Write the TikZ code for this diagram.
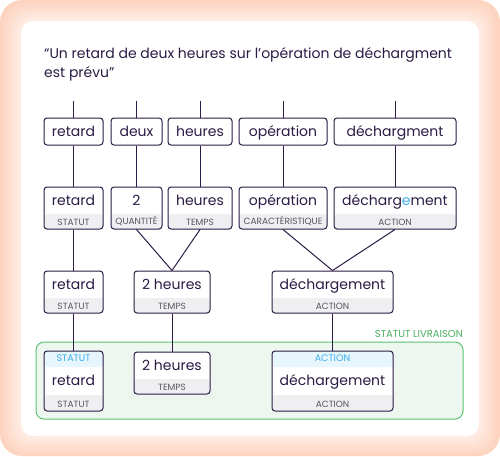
\documentclass[tikz,border=0pt]{standalone}
\usepackage{fontspec}
\setmainfont{Poppins}
\definecolor{ink}{HTML}{2B1B45}
\definecolor{peach}{HTML}{FDD4C0}
\definecolor{tagbg}{HTML}{EFEFF2}
\definecolor{tagink}{HTML}{55555F}
\definecolor{topbg}{HTML}{E7F5FD}
\definecolor{topink}{HTML}{3DAFEA}
\definecolor{zonebg}{HTML}{EEF7EF}
\definecolor{zoneline}{HTML}{5DC172}
\definecolor{zoneink}{HTML}{4BAE5F}

\begin{document}
\begin{tikzpicture}[x=1pt,y=-1pt,
  box/.style={draw=ink, line width=1pt, rounded corners=3pt, fill=white, text=ink,
    font=\fontsize{14}{17}\selectfont, inner xsep=0pt, inner ysep=0pt,
    text height=18pt, text depth=9pt},
  tagtxt/.style={anchor=south, inner sep=0pt, yshift=3.5pt, text=tagink,
    font=\fontsize{9}{10}\selectfont},
  toptxt/.style={anchor=north, inner sep=0pt, yshift=-4.5pt, text=topink,
    font=\fontsize{9.5}{10}\selectfont},
  tagged/.style={box, text height=18pt, text depth=24pt,
    path picture={\fill[tagbg] ([yshift=15pt]path picture bounding box.south west)
      rectangle (path picture bounding box.south east);},
    label={[tagtxt]south:#1}},
  twotag/.style 2 args={box, text height=34pt, text depth=26pt,
    path picture={\fill[tagbg] ([yshift=16pt]path picture bounding box.south west)
      rectangle (path picture bounding box.south east);
      \fill[topbg] ([yshift=-16pt]path picture bounding box.north west)
      rectangle (path picture bounding box.north east);},
    label={[toptxt]north:#1}, label={[tagtxt]south:#2}},
  link/.style={draw=ink, line width=1pt},
  zone/.style={draw=zoneline, fill=zonebg, line width=1pt, rounded corners=8pt}]
\useasboundingbox (0,0) rectangle (500,456);
\fill[peach, rounded corners=22pt] (0,0) rectangle (500,456);
\foreach \d in {18,16,...,2} {
  \pgfmathtruncatemacro{\w}{(20-\d)*3}
  \fill[white!\w!peach, rounded corners=12pt+0.5*\d pt] (21-\d,21-\d) rectangle (479+\d,436+\d);
}
\fill[white, rounded corners=12pt] (21,21) rectangle (479,436);

\node[anchor=base west, inner sep=0pt, text=ink, font=\fontsize{14}{19}\selectfont] (title1) at (44,58)
  {“Un retard de deux heures sur l’opération de déchargment};
\node[anchor=base west, inner sep=0pt, text=ink, font=\fontsize{14}{19}\selectfont] (title2) at (44,77)
  {est prévu”};

\draw[zone] (36,342) rectangle (463,419);
\node[anchor=base east, inner sep=0pt, text=zoneink, font=\fontsize{10}{11}\selectfont] (zonelbl) at (463,337) {STATUT LIVRAISON};

\coordinate (t1) at (73.5,101);
\coordinate (t2) at (136.5,101);
\coordinate (t3) at (200,101);
\coordinate (t4) at (283,101);
\coordinate (t5) at (395,101);

\node[box, minimum width=59pt] (w1) at (73.5,131.5) {retard};
\node[box, minimum width=51pt] (w2) at (136.5,131.5) {deux};
\node[box, minimum width=64pt] (w3) at (200,131.5) {heures};
\node[box, minimum width=88pt] (w4) at (283,131.5) {opération};
\node[box, minimum width=122pt] (w5) at (395,131.5) {déchargment};

\node[tagged=STATUT, minimum width=59pt] (n1) at (73.5,208) {retard};
\node[tagged=QUANTITÉ, minimum width=51pt] (n2) at (136.5,208) {2};
\node[tagged=TEMPS, minimum width=64pt] (n3) at (200,208) {heures};
\node[tagged=CARACTÉRISTIQUE, minimum width=88pt] (n4) at (283,208) {opération};
\node[tagged=ACTION, minimum width=122pt] (n5) at (395,208) {décharg\textcolor{topink}{e}ment};

\node[tagged=STATUT, minimum width=59pt] (g1) at (73.5,292) {retard};
\node[tagged=TEMPS, minimum width=76pt] (g2) at (172,292) {2 heures};
\node[tagged=ACTION, minimum width=121pt] (g3) at (332.5,292) {déchargement};

\node[twotag={STATUT}{STATUT}, minimum width=59pt] (s1) at (73.5,381) {retard};
\node[tagged=TEMPS, minimum width=76pt] (s2) at (172,373) {2 heures};
\node[twotag={ACTION}{ACTION}, minimum width=121pt] (s3) at (332.5,381) {déchargement};

\foreach \i in {1,...,5} {
  \draw[link] (t\i) -- (w\i.north);
  \draw[link] (w\i.south) -- (n\i.north);
}
\draw[link] (n1.south) -- (g1.north);
\draw[link] (n2.south) -- (g2.north);
\draw[link] (n3.south) -- (g2.north);
\draw[link] (n4.south) -- (g3.north);
\draw[link] (n5.south) -- (g3.north);
\draw[link] (g1.south) -- (s1.north);
\draw[link] (g2.south) -- (s2.north);
\draw[link] (g3.south) -- (s3.north);
\end{tikzpicture}
\end{document}
